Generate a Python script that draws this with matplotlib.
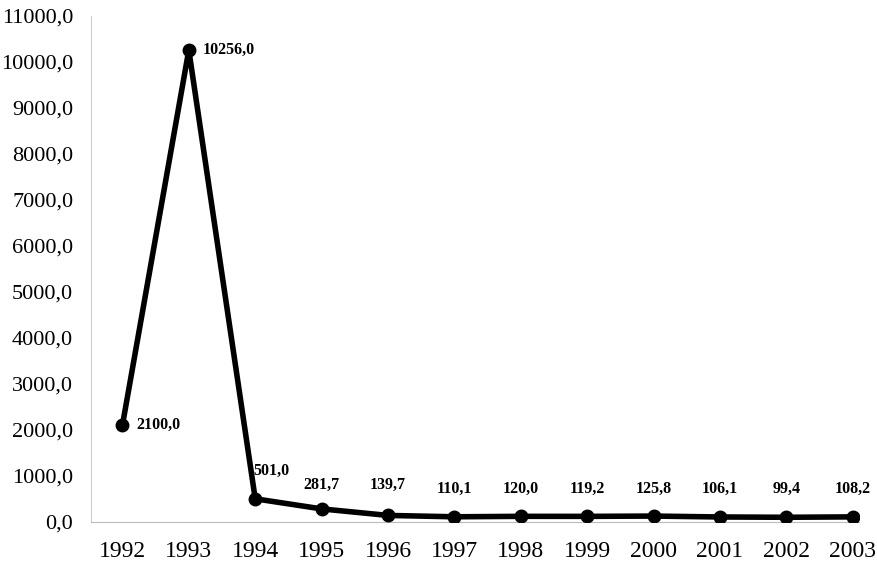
import matplotlib.pyplot as plt
from matplotlib.ticker import FuncFormatter

years = ['1992', '1993', '1994', '1995', '1996', '1997',
         '1998', '1999', '2000', '2001', '2002', '2003']
values = [2100.0, 10256.0, 501.0, 281.7, 139.7, 110.1,
          120.0, 119.2, 125.8, 106.1, 99.4, 108.2]

plt.rcParams['font.family'] = ['Liberation Serif', 'DejaVu Serif']

fig = plt.figure(figsize=(8.77, 5.66), dpi=100)
ax = fig.add_axes([0.104, 0.078, 0.876, 0.894])

x = list(range(len(years)))
ax.plot(x, values, color='black', linewidth=4, marker='o',
        markersize=9, solid_joinstyle='round', zorder=3)


def fmt(v):
    return ('%.1f' % v).replace('.', ',')


# small values share one label row just above the flat part of the line
label_row = 640
for i, v in enumerate(values):
    if i in (0, 1):
        ax.annotate(fmt(v), (i, v), xytext=(10, 0), textcoords='offset points',
                    ha='left', va='center', fontsize=11.5, fontweight='bold')
    elif i == 2:
        ax.annotate(fmt(v), (i, v), xytext=(-1, 14), textcoords='offset points',
                    ha='left', va='bottom', fontsize=11.5, fontweight='bold')
    else:
        row = label_row + (0 if i < 5 else -100)
        ax.text(i, row, fmt(v), ha='center', va='bottom',
                fontsize=11.5, fontweight='bold')

ax.set_xlim(-0.47, 11.1)
ax.set_ylim(0, 11000)
ax.set_yticks(range(0, 11001, 1000))
ax.yaxis.set_major_formatter(FuncFormatter(lambda v, p: fmt(v)))
ax.set_xticks(x)
ax.set_xticklabels(years)
ax.tick_params(axis='y', length=0, labelsize=16, pad=13)
ax.tick_params(axis='x', length=0, labelsize=17, pad=14)

for side in ('top', 'right'):
    ax.spines[side].set_visible(False)
ax.spines['left'].set_color('#cccccc')
ax.spines['bottom'].set_color('#bbbbbb')
ax.spines['left'].set_linewidth(0.8)
ax.spines['bottom'].set_linewidth(0.8)

fig.savefig('out.png', dpi=100)
